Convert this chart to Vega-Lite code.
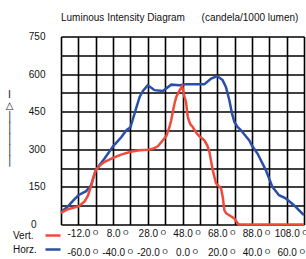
{
  "$schema": "https://vega.github.io/schema/vega-lite/v6.json",
  "width": 243,
  "height": 188,
  "autosize": "none",
  "padding": {"left": 61, "top": 36.5, "right": 2, "bottom": 34.5},
  "background": "white",
  "title": {
    "text": "Luminous Intensity Diagram\u00a0\u00a0\u00a0\u00a0\u00a0\u00a0(candela/1000 lumen)",
    "anchor": "start",
    "frame": "group",
    "font": "Liberation Sans",
    "fontSize": 10,
    "fontWeight": "normal",
    "color": "#111",
    "baseline": "alphabetic",
    "offset": 1
  },
  "config": {
    "view": {"stroke": null},
    "axis": {
      "grid": true,
      "gridColor": "#000",
      "gridWidth": 1.6,
      "gridOpacity": 1,
      "domain": false,
      "ticks": false,
      "tickSize": 0,
      "labelFont": "Liberation Sans",
      "labelFontSize": 10,
      "labelColor": "#111"
    }
  },
  "datasets": {
    "vert": [
      {"series": "Vert.", "angle": -22, "value": 46},
      {"series": "Vert.", "angle": -18, "value": 61},
      {"series": "Vert.", "angle": -12, "value": 72},
      {"series": "Vert.", "angle": -8.4, "value": 92},
      {"series": "Vert.", "angle": -6.5, "value": 115},
      {"series": "Vert.", "angle": -4.5, "value": 157},
      {"series": "Vert.", "angle": -3.6, "value": 183},
      {"series": "Vert.", "angle": -2, "value": 217},
      {"series": "Vert.", "angle": 0.5, "value": 236},
      {"series": "Vert.", "angle": 3.2, "value": 250},
      {"series": "Vert.", "angle": 8, "value": 266},
      {"series": "Vert.", "angle": 12.6, "value": 279},
      {"series": "Vert.", "angle": 18.2, "value": 290},
      {"series": "Vert.", "angle": 23.3, "value": 296},
      {"series": "Vert.", "angle": 28.1, "value": 298},
      {"series": "Vert.", "angle": 30.8, "value": 302},
      {"series": "Vert.", "angle": 33.8, "value": 312},
      {"series": "Vert.", "angle": 36.7, "value": 336},
      {"series": "Vert.", "angle": 38.6, "value": 352},
      {"series": "Vert.", "angle": 40.5, "value": 389},
      {"series": "Vert.", "angle": 41.5, "value": 416},
      {"series": "Vert.", "angle": 42.4, "value": 449},
      {"series": "Vert.", "angle": 43.4, "value": 483},
      {"series": "Vert.", "angle": 44.4, "value": 509},
      {"series": "Vert.", "angle": 45.9, "value": 530},
      {"series": "Vert.", "angle": 47.8, "value": 552},
      {"series": "Vert.", "angle": 49, "value": 512},
      {"series": "Vert.", "angle": 50, "value": 490},
      {"series": "Vert.", "angle": 51, "value": 432},
      {"series": "Vert.", "angle": 51.6, "value": 416},
      {"series": "Vert.", "angle": 52.5, "value": 400},
      {"series": "Vert.", "angle": 53.9, "value": 389},
      {"series": "Vert.", "angle": 56, "value": 365},
      {"series": "Vert.", "angle": 57.7, "value": 352},
      {"series": "Vert.", "angle": 60.6, "value": 336},
      {"series": "Vert.", "angle": 62.3, "value": 315},
      {"series": "Vert.", "angle": 63.5, "value": 290},
      {"series": "Vert.", "angle": 65.4, "value": 217},
      {"series": "Vert.", "angle": 67.3, "value": 164},
      {"series": "Vert.", "angle": 70.2, "value": 144},
      {"series": "Vert.", "angle": 71.2, "value": 110},
      {"series": "Vert.", "angle": 72.1, "value": 57},
      {"series": "Vert.", "angle": 73.1, "value": 45},
      {"series": "Vert.", "angle": 75, "value": 37},
      {"series": "Vert.", "angle": 77.8, "value": 24},
      {"series": "Vert.", "angle": 79.3, "value": 10},
      {"series": "Vert.", "angle": 80.3, "value": 0},
      {"series": "Vert.", "angle": 118, "value": 0}
    ],
    "horz": [
      {"series": "Horz.", "angle": -70, "value": 50},
      {"series": "Horz.", "angle": -66, "value": 72},
      {"series": "Horz.", "angle": -63, "value": 95},
      {"series": "Horz.", "angle": -60, "value": 117},
      {"series": "Horz.", "angle": -55.5, "value": 133},
      {"series": "Horz.", "angle": -52.6, "value": 157},
      {"series": "Horz.", "angle": -50, "value": 217},
      {"series": "Horz.", "angle": -44.9, "value": 263},
      {"series": "Horz.", "angle": -40, "value": 312},
      {"series": "Horz.", "angle": -35.3, "value": 348},
      {"series": "Horz.", "angle": -32.3, "value": 376},
      {"series": "Horz.", "angle": -30, "value": 388},
      {"series": "Horz.", "angle": -27.5, "value": 445},
      {"series": "Horz.", "angle": -24.7, "value": 509},
      {"series": "Horz.", "angle": -22.8, "value": 533},
      {"series": "Horz.", "angle": -20, "value": 556},
      {"series": "Horz.", "angle": -16.1, "value": 536},
      {"series": "Horz.", "angle": -11.3, "value": 533},
      {"series": "Horz.", "angle": -6.5, "value": 558},
      {"series": "Horz.", "angle": -1.7, "value": 556},
      {"series": "Horz.", "angle": 2.1, "value": 560},
      {"series": "Horz.", "angle": 6.1, "value": 560},
      {"series": "Horz.", "angle": 12.6, "value": 560},
      {"series": "Horz.", "angle": 16.5, "value": 582},
      {"series": "Horz.", "angle": 20, "value": 592},
      {"series": "Horz.", "angle": 23.1, "value": 576},
      {"series": "Horz.", "angle": 25, "value": 549},
      {"series": "Horz.", "angle": 27, "value": 496},
      {"series": "Horz.", "angle": 28.5, "value": 443},
      {"series": "Horz.", "angle": 29.9, "value": 409},
      {"series": "Horz.", "angle": 31.7, "value": 389},
      {"series": "Horz.", "angle": 33.7, "value": 376},
      {"series": "Horz.", "angle": 36.5, "value": 352},
      {"series": "Horz.", "angle": 38.5, "value": 335},
      {"series": "Horz.", "angle": 40, "value": 315},
      {"series": "Horz.", "angle": 43.2, "value": 283},
      {"series": "Horz.", "angle": 48, "value": 217},
      {"series": "Horz.", "angle": 51.8, "value": 150},
      {"series": "Horz.", "angle": 55.6, "value": 117},
      {"series": "Horz.", "angle": 59.5, "value": 104},
      {"series": "Horz.", "angle": 64.2, "value": 77},
      {"series": "Horz.", "angle": 69, "value": 44},
      {"series": "Horz.", "angle": 70, "value": 38}
    ]
  },
  "encoding": {
    "y": {"field": "value", "type": "quantitative", "scale": {"domain": [0, 750], "nice": false},
      "axis": {
        "values": [0, 75, 150, 225, 300, 375, 450, 525, 600, 675, 750],
        "labelExpr": "datum.value % 150 == 0 ? datum.label : ''",
        "labelOverlap": false,
        "labelPadding": {"condition": {"test": "datum.value == 0", "value": 25}, "value": 16},
        "grid": true,
        "title": ["I", "\u25b3", "\u2502", "\u2502", "\u2502", "\u2502", "\u2502"],
        "titleFont": "DejaVu Sans",
        "titleFontSize": 10,
        "titleFontWeight": "normal",
        "titleLineHeight": 11,
        "titleAngle": 0,
        "titleAlign": "center",
        "titleBaseline": "top",
        "titleX": -52,
        "titleY": 53,
        "titleColor": "#222"
      }
    },
    "color": {"field": "series", "type": "nominal",
      "scale": {"domain": ["Vert.", "Horz."], "range": ["#EF4B3B", "#2B4EA6"]},
      "legend": {
        "orient": "none", "legendX": -69, "legendY": 190, "title": null,
        "symbolType": "stroke", "symbolSize": 225, "symbolStrokeWidth": 2.5,
        "labelFont": "Liberation Sans", "labelFontSize": 10, "labelColor": "#111",
        "labelOffset": -49, "symbolOffset": 52, "rowPadding": 0, "padding": 0
      }
    }
  },
  "layer": [
    {
      "data": {"name": "horz"},
      "mark": {"type": "line", "strokeWidth": 2.5},
      "encoding": {
        "x": {"field": "angle", "type": "quantitative", "scale": {"domain": [-70, 70], "nice": false, "zero": false},
          "axis": {
            "orient": "bottom",
            "grid": true,
            "values": [-70, -60, -50, -40, -30, -20, -10, 0, 10, 20, 30, 40, 50, 60, 70],
            "labelExpr": "(datum.value + 60) % 20 == 0 ? [(datum.value + 48 < 0 ? '-' : '') + format(abs(datum.value + 48), '.1f') + ' \u1d3c', (datum.value < 0 ? '-' : '') + format(abs(datum.value), '.1f') + ' \u1d3c'] : ''",
            "labelOverlap": false,
            "labelFlush": false,
            "labelBound": false,
            "labelAngle": 0,
            "labelPadding": 4,
            "labelOffset": 4,
            "labelLineHeight": 19,
            "labelBaseline": "top",
            "title": null
          }
        }
      }
    },
    {
      "data": {"name": "vert"},
      "mark": {"type": "line", "strokeWidth": 2.5},
      "encoding": {
        "x": {"field": "angle", "type": "quantitative", "scale": {"domain": [-22, 118], "nice": false, "zero": false}, "axis": null}
      }
    }
  ],
  "resolve": {"scale": {"x": "independent"}, "axis": {"x": "independent"}}
}
